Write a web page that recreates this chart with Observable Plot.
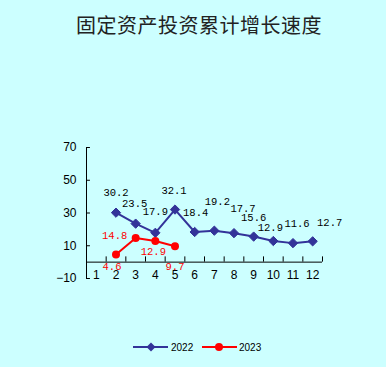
<!DOCTYPE html>
<html><head><meta charset="utf-8">
<script src="https://cdn.jsdelivr.net/npm/d3@7"></script>
<script src="https://cdn.jsdelivr.net/npm/@observablehq/plot@0.6"></script>
<style>
body{margin:0;background:#fff;}
#wrap{position:relative;width:386px;height:367px;background:#CCFFFF;overflow:hidden;}
#title{position:absolute;left:0;top:10px;width:398px;text-align:center;font:20px "Noto Sans CJK SC",sans-serif;color:#222;letter-spacing:0.5px;}
#chart{position:absolute;left:0;top:0;}
#legend{position:absolute;left:0;top:336px;}
</style></head>
<body>
<div id="wrap">
  <div id="chart"></div>
  <div id="title">固定资产投资累计增长速度</div>
  <svg id="legend" width="386" height="22" font-family="Liberation Sans, Arial, sans-serif" font-size="10">
    <line x1="133" x2="168" y1="11" y2="11" stroke="#333399" stroke-width="2"/>
    <path d="M151,6.5 L155.5,11 L151,15.5 L146.5,11 Z" fill="#333399"/>
    <text x="171" y="14.5" fill="#000">2022</text>
    <line x1="202" x2="237" y1="11" y2="11" stroke="#FF0000" stroke-width="2"/>
    <circle cx="219" cy="11" r="4" fill="#FF0000"/>
    <text x="239" y="14.5" fill="#000">2023</text>
  </svg>
</div>
<script>
const title = "固定资产投资累计增长速度";
const months = [1,2,3,4,5,6,7,8,9,10,11,12];
const months2022 = [2,3,4,5,6,7,8,9,10,11,12];
const values2022 = [30.2,23.5,17.9,32.1,18.4,19.2,17.7,15.6,12.9,11.6,12.7];
const months2023 = [2,3,4,5];
const values2023 = [4.6,14.8,12.9,9.7];
const yTicks = [-10,10,30,50,70];

// label nudges (pixels) per month, as placed in the reference
const nudge2022 = {2:[0,-20],3:[-1,-20],4:[0,-21],5:[-1,-19],6:[1,-19],7:[3,-29],8:[9,-25],9:[0,-19],10:[-3,-13],11:[4,-20],12:[17,-19]};
const nudge2023 = {2:[-4,12],3:[-21,-2],4:[-2,11],5:[0,20]};

const d22 = months2022.map((m,i)=>({m, v: values2022[i]}));
const d23 = months2023.map((m,i)=>({m, v: values2023[i]}));
const bounds = months.map(m => m + 0.5);

const labelFont = "Liberation Mono, DejaVu Sans Mono, monospace";
const fmt = d => d.toFixed(1);
const labels = (data, nudge, color) => data.map(d => Plot.text([d], {
  x: "m", y: "v", text: r => fmt(r.v), dx: nudge[d.m][0], dy: nudge[d.m][1],
  fontFamily: labelFont, fontSize: 10.5, fill: color
}));

const chart = Plot.plot({
  width: 386,
  height: 300,
  marginLeft: 86,
  marginRight: 64,
  marginTop: 147,
  marginBottom: 22,
  style: {background: "transparent", fontFamily: "Liberation Sans, Arial, sans-serif", fontSize: "12px", color: "#000"},
  x: {domain: [0.5, 12.5], axis: null},
  y: {domain: [-10, 70], axis: null},
  marks: [
    Plot.axisY({ticks: yTicks, tickSize: 0, tickPadding: 10, fontSize: 12, label: null}),
    Plot.ruleY(yTicks, {x1: 0.5, x2: 0.7, stroke: "#000"}),
    Plot.ruleX([0.5], {y1: -10, y2: 70, stroke: "#000"}),
    Plot.ruleY([0], {x1: 0.5, x2: 12.5, stroke: "#000"}),
    Plot.ruleX(bounds, {y1: 0, y2: 3.2, stroke: "#000"}),
    Plot.text(months, {x: d => d, text: d => String(d), frameAnchor: "bottom", fontSize: 12, fill: "#000"}),
    Plot.line(d22, {x: "m", y: "v", stroke: "#333399", strokeWidth: 2}),
    Plot.dot(d22, {x: "m", y: "v", symbol: "diamond2", r: 4.2, fill: "#333399", stroke: "#333399", strokeWidth: 1}),
    Plot.line(d23, {x: "m", y: "v", stroke: "#FF0000", strokeWidth: 2}),
    Plot.dot(d23, {x: "m", y: "v", r: 4, fill: "#FF0000"}),
    ...labels(d22, nudge2022, "#000"),
    ...labels(d23, nudge2023, "#FF0000")
  ]
});
document.getElementById("chart").appendChild(chart);
</script>
</body></html>
